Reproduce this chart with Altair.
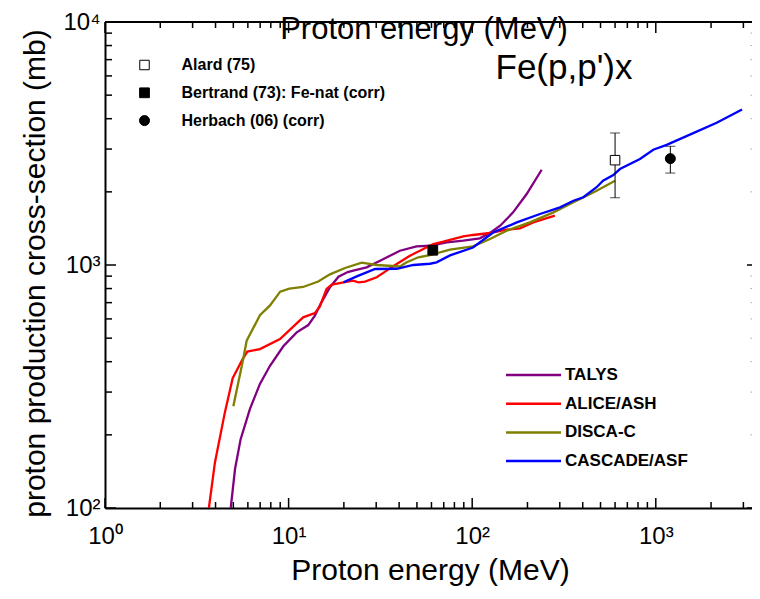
import altair as alt
import pandas as pd

# ---------------- data ----------------
talys_e = [4.84, 5.11, 5.48, 6.16, 6.98, 7.92, 9.36, 11.07, 12.8, 13.9, 15.1, 16.8, 18.7, 21.0,
           22.5, 26.6, 31.5, 40.4, 49.8, 58.9, 72.6, 89.4, 110, 125, 142, 167, 198, 239]
talys_xs = [100, 145, 192, 256, 324, 385, 463, 528, 566, 619, 702, 810, 895, 935,
            948, 978, 1041, 1145, 1194, 1200, 1240, 1259, 1288, 1354, 1451, 1647, 1960, 2466]

alice_e = [3.68, 3.97, 4.5, 4.96, 5.62, 5.96, 6.98, 8.98, 12.0, 13.9, 14.8, 16.1, 17.2, 19.9,
           22.5, 24.0, 26.1, 30.2, 34.2, 38.8, 45.8, 54.2, 61.4, 69.6, 89.4, 101, 125, 154,
           182, 215, 282]
alice_xs = [100, 154, 248, 342, 410, 440, 451, 496, 609, 634, 676, 797, 830, 849,
            862, 849, 854, 890, 948, 1010, 1092, 1164, 1220, 1247, 1312, 1329, 1354, 1397,
            1416, 1498, 1596]

disca_e = [5.0, 5.66, 5.91, 6.98, 7.92, 9.0, 10.1, 12.0, 14.5, 16.8, 20.3, 25.0, 30.2, 40.4,
           44, 50.9, 58.9, 75.7, 101, 125, 154, 206, 277, 356, 429, 476, 600]
disca_xs = [262, 410, 488, 621, 682, 777, 800, 812, 855, 915, 972, 1022, 1000, 986,
            1026, 1076, 1099, 1156, 1194, 1279, 1384, 1498, 1647, 1811, 1940, 2022, 2221]

cascade_e = [19.9, 23.5, 29.6, 38.8, 47.8, 58.9, 64, 75.7, 101, 130, 175, 234, 301, 356,
             403, 476, 516, 587, 638, 820, 969, 1146, 1600, 2146, 2950]
cascade_xs = [849, 898, 963, 965, 1000, 1012, 1026, 1095, 1180, 1360, 1498, 1621, 1727, 1838,
              1900, 2090, 2221, 2346, 2483, 2731, 2982, 3120, 3490, 3850, 4365]

models = ["TALYS", "ALICE/ASH", "DISCA-C", "CASCADE/ASF"]
model_colors = ["#800080", "#ff0000", "#808000", "#0000ff"]

exp_source = ["Alard (75)", "Bertrand (73): Fe-nat (corr)", "Herbach (06) (corr)"]
exp_e = [600, 61, 1200]
exp_xs = [2700, 1150, 2740]
exp_shapes = ["square", "square", "circle"]
exp_fills = ["white", "black", "black"]
exp_sizes = [90, 100, 150]

err_e = [600, 1200]
err_lo = [1890, 2390]
err_hi = [3490, 3080]

x_major_ticks = [1, 10, 100, 1000]
x_minor_ticks = [2, 3, 4, 5, 6, 7, 8, 9, 20, 30, 40, 50, 60, 70, 80, 90,
                 200, 300, 400, 500, 600, 700, 800, 900, 2000, 3000]
y_major_ticks = [100, 1000, 10000]
y_minor_ticks = [200, 300, 400, 500, 600, 700, 800, 900,
                 2000, 3000, 4000, 5000, 6000, 7000, 8000, 9000]

x_title = "Proton energy (MeV)"
y_title = "proton production cross-section (mb)"
reaction = "Fe(p,p')x"

# ---------------- chart ----------------
W = 647
H = 486
FONT = "Liberation Sans"

xscale = alt.Scale(type="log", domain=[1, 3342], nice=False)
yscale = alt.Scale(type="log", domain=[100, 10000], nice=False)

sup = ("datum.value == 1 ? '10\u2070' : datum.value == 10 ? '10\u00b9' : "
       "datum.value == 100 ? '10\u00b2' : datum.value == 1000 ? '10\u00b3' : '10\u2074'")

xaxis = alt.Axis(values=x_major_ticks, labelExpr=sup, ticks=False, grid=False,
                 domainColor="black", domainWidth=2, labelFont=FONT, labelFontSize=24,
                 labelColor="black", labelPadding=16, labelFlush=False, labelOverlap=False,
                 title=x_title, titleFont=FONT, titleFontSize=30, titleFontWeight="normal",
                 titleColor="black", titleX=325, titleY=71, titleBaseline="alphabetic")
yaxis = alt.Axis(values=y_major_ticks, labelExpr=sup, ticks=False, grid=False,
                 domainColor="black", domainWidth=2, labelFont=FONT, labelFontSize=24,
                 labelColor="black", labelPadding=5, labelFlush=False, labelOverlap=False,
                 title=y_title, titleFont=FONT, titleFontSize=30, titleFontWeight="normal",
                 titleColor="black", titleX=-70, titleY=H / 2 + 8, titleAngle=270,
                 titleAlign="center", titleBaseline="middle")


def X(field):
    return alt.X(field, type="quantitative", scale=xscale, axis=xaxis)


def Y(field):
    return alt.Y(field, type="quantitative", scale=yscale, axis=yaxis)


# tick marks (inward) drawn from the tick value lists through the scales
def xtick_layer(vals, y0, y1, color="black", sw=1.5):
    return alt.Chart(pd.DataFrame({"v": vals})).mark_rule(color=color, strokeWidth=sw).encode(
        x=X("v"), y=alt.value(y0), y2=alt.value(y1))


def ytick_layer(vals, x0, x1, color="black", sw=1.5):
    return alt.Chart(pd.DataFrame({"v": vals})).mark_rule(color=color, strokeWidth=sw).encode(
        y=Y("v"), x=alt.value(x0), x2=alt.value(x1))


tick_layers = [
    xtick_layer(x_major_ticks, H, H - 10),
    xtick_layer(x_minor_ticks, H, H - 6),
    xtick_layer(x_major_ticks, 0, 11),
    xtick_layer(x_minor_ticks, 0, 6),
    ytick_layer(y_major_ticks, 0, 11),
    ytick_layer(y_minor_ticks, 0, 7),
    ytick_layer(y_major_ticks, W - 5, W),
    ytick_layer(y_minor_ticks, W - 1.5, W, color="#aaaaaa", sw=1),
]

top_line = alt.Chart(pd.DataFrame({"v": [1]})).mark_rule(color="black", strokeWidth=2).encode(
    x=alt.value(0), x2=alt.value(W), y=alt.value(0))

rows = []
for name, es, vs in [("TALYS", talys_e, talys_xs), ("ALICE/ASH", alice_e, alice_xs),
                     ("DISCA-C", disca_e, disca_xs), ("CASCADE/ASF", cascade_e, cascade_xs)]:
    for e, v in zip(es, vs):
        rows.append({"model": name, "e": e, "xs": v})
df_lines = pd.DataFrame(rows)

lines = alt.Chart(df_lines).mark_line(strokeWidth=2.3, clip=True).encode(
    x=X("e"), y=Y("xs"),
    color=alt.Color("model:N", scale=alt.Scale(domain=models, range=model_colors),
                    legend=alt.Legend(title=None, orient="none", legendX=420, legendY=344.5,
                                      direction="vertical", symbolType="M-27.5,0L27.5,0",
                                      symbolSize=4, symbolStrokeWidth=2.5, labelFont=FONT,
                                      labelFontSize=17, labelFontWeight="bold",
                                      labelColor="black", labelOffset=23, labelLimit=0,
                                      rowPadding=10.7, padding=0)))

df_err = pd.DataFrame({"e": err_e, "lo": err_lo, "hi": err_hi})
err = alt.Chart(df_err).mark_rule(color="black", strokeWidth=1).encode(
    x=X("e"), y=Y("lo"), y2="hi")
caps = alt.Chart(df_err).transform_fold(["lo", "hi"], as_=["k", "v"]).mark_tick(
    orient="horizontal", color="black", size=10, thickness=1).encode(x=X("e"), y=Y("v"))

leg = alt.Legend(title=None, orient="none", legendX=31.5, legendY=35, direction="vertical",
                 labelFont=FONT, labelFontSize=16, labelFontWeight="bold", labelColor="black",
                 labelOffset=29, labelLimit=0, rowPadding=11.8, symbolStrokeWidth=1,
                 padding=0)
df_exp = pd.DataFrame({"source": exp_source, "e": exp_e, "xs": exp_xs})
points = alt.Chart(df_exp).mark_point(filled=True, strokeWidth=1, opacity=1).encode(
    x=X("e"), y=Y("xs"),
    shape=alt.Shape("source:N", scale=alt.Scale(domain=exp_source, range=exp_shapes), legend=leg),
    fill=alt.Fill("source:N", scale=alt.Scale(domain=exp_source, range=exp_fills), legend=leg),
    stroke=alt.Stroke("source:N", scale=alt.Scale(domain=exp_source, range=["black"] * 3),
                      legend=leg),
    size=alt.Size("source:N", scale=alt.Scale(domain=exp_source, range=exp_sizes), legend=leg))

top_text = alt.Chart(pd.DataFrame({"t": [x_title]})).mark_text(
    font=FONT, fontSize=31, align="center", baseline="alphabetic", color="black").encode(
    text="t:N", x=alt.value(319), y=alt.value(17))
fe_text = alt.Chart(pd.DataFrame({"t": [reaction]})).mark_text(
    font=FONT, fontSize=35, align="center", baseline="alphabetic", color="black").encode(
    text="t:N", x=alt.value(459), y=alt.value(57))

chart = alt.layer(*tick_layers, top_line, lines, err, caps, points, top_text, fe_text).properties(
    width=W, height=H,
    autosize=alt.AutoSizeParams(type="none"),
    padding={"left": 97, "top": 14, "right": 0, "bottom": 78},
    background="white",
).configure_view(stroke=None)

chart.save("out.html", embed_options={"renderer": "svg", "actions": False})
